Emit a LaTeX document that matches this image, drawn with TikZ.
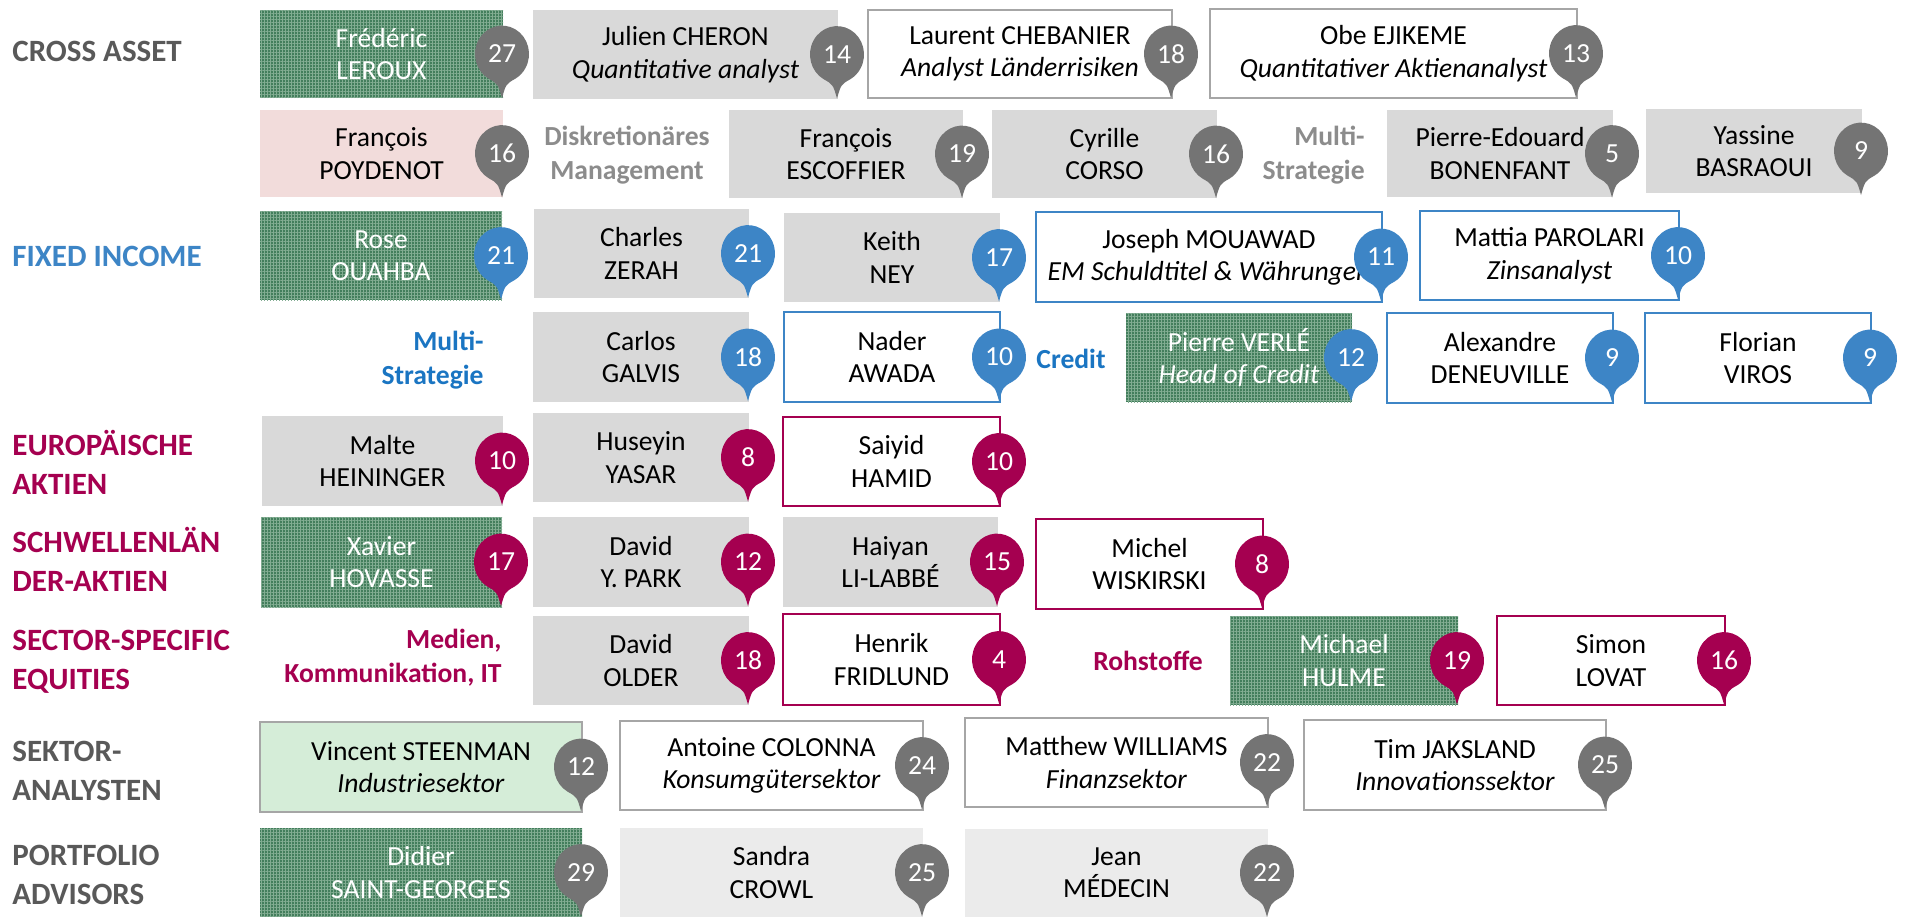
\documentclass[tikz,border=0pt]{standalone}
\usepackage{fontspec}
\setmainfont{Carlito}
\usetikzlibrary{patterns.meta}
\definecolor{boxgrey}{HTML}{D9D9D9}
\definecolor{lightgrey}{HTML}{EBEBEB}
\definecolor{pinkfill}{HTML}{F2DCDB}
\definecolor{mintfill}{HTML}{D5EDD8}
\definecolor{greenbase}{HTML}{437E5C}
\definecolor{greenline}{HTML}{82AD92}
\definecolor{bordergrey}{HTML}{A6A6A6}
\definecolor{fiblue}{HTML}{3D85C6}
\definecolor{creditblue}{HTML}{1A75C2}
\definecolor{crimson}{HTML}{A50050}
\definecolor{pingrey}{HTML}{747474}
\definecolor{labgrey}{HTML}{595959}
\definecolor{sublabgrey}{HTML}{8C8C8C}
\tikzset{
  namefont/.style={font=\fontsize{13.8}{16.2}\selectfont},
  person/.style={namefont, align=center, inner sep=0pt, outer sep=0pt},
  greybox/.style={person, fill=boxgrey},
  lgreybox/.style={person, fill=lightgrey},
  pinkbox/.style={person, fill=pinkfill},
  mintbox/.style={person, fill=mintfill, draw=bordergrey, line width=1pt},
  hatchbox/.style={person, fill=greenbase, text=white,
     postaction={pattern={Hatch[angle=0,distance=1.5pt,line width=0.45pt]}, pattern color=greenline}},
  greyline/.style={person, fill=white, draw=bordergrey, line width=1pt},
  blueline/.style={person, fill=white, draw=fiblue, line width=1pt},
  redline/.style={person, fill=white, draw=crimson, line width=1pt},
  pinnum/.style={namefont, text=white, inner sep=0pt},
  rowlab/.style={font=\fontsize{15.5}{19.5}\selectfont\bfseries, align=left, anchor=west, inner sep=0pt},
  sublab/.style={font=\fontsize{13.8}{17}\selectfont\bfseries, inner sep=0pt},
}
\newcommand\mkbox[7]{%
  \pgfmathsetmacro\bxw{(#4-#2)*0.5}%
  \pgfmathsetmacro\bxh{(#5-#3)*0.5}%
  \node[#6, minimum width=\bxw pt, minimum height=\bxh pt] (#1) at ({(#2+#4)/2},{(#3+#5)/2}) {#7};%
}
\newcommand\mkpin[4]{%
  \path (#1.east) ++(-1,0) coordinate (#4c);
  \fill[#3, shift={(#4c)}] (-13.5,24.6) arc[start angle=120, end angle=420, x radius=27, y radius=28.4]
     .. controls (4,30) .. (0,44) .. controls (-4,30) .. cycle;
  \node[pinnum] (#4) at (#4c) {#2};
}
\begin{document}
\begin{tikzpicture}[x=0.5pt,y=-0.5pt]
\useasboundingbox[fill=white] (0,0) rectangle (1910,916);

% row labels
\node[rowlab, text=labgrey] (lcross) at (12,51) {CROSS ASSET};
\node[rowlab, text=fiblue] (lfixed) at (12,256) {FIXED INCOME};
\node[rowlab, text=crimson] (leuro) at (12,462) {EUROPÄISCHE\\AKTIEN};
\node[rowlab, text=crimson] (lem) at (12,559) {SCHWELLENLÄN\\DER-AKTIEN};
\node[rowlab, text=crimson] (lsector) at (12,662) {SECTOR-SPECIFIC\\EQUITIES};
\node[rowlab, text=labgrey] (lsektor) at (12,771) {SEKTOR-\\ANALYSTEN};
\node[rowlab, text=labgrey] (lport) at (12,875) {PORTFOLIO\\ADVISORS};

% sub labels
\node[sublab, text=sublabgrey, align=center] (sdisk) at (627,155) {Diskretionäres\\Management};
\node[sublab, text=sublabgrey, align=right, anchor=east] (smulti1) at (1365,155) {Multi-\\Strategie};
\node[sublab, text=creditblue, align=right, anchor=east] (smulti2) at (484,360) {Multi-\\Strategie};
\node[sublab, text=creditblue] (scredit) at (1071,359) {Credit};
\node[sublab, text=crimson, align=right, anchor=east] (smedien) at (502,658) {Medien,\\Kommunikation, IT};
\node[sublab, text=crimson] (sroh) at (1148,661) {Rohstoffe};

% Row A
\mkbox{a1}{260}{10}{503}{98}{hatchbox}{Frédéric\\LEROUX}
\mkbox{a2}{533}{10}{838}{99}{greybox}{Julien CHERON\\\textit{Quantitative analyst}}
\mkbox{a3}{868}{10}{1172}{98}{greyline}{Laurent CHEBANIER\\\textit{Analyst Länderrisiken}}
\mkbox{a4}{1210}{9}{1577}{98}{greyline}{Obe EJIKEME\\\textit{Quantitativer Aktienanalyst}}
\mkpin{a1}{27}{pingrey}{pa1}
\mkpin{a2}{14}{pingrey}{pa2}
\mkpin{a3}{18}{pingrey}{pa3}
\mkpin{a4}{13}{pingrey}{pa4}

% Row B
\mkbox{b1}{260}{110}{503}{197}{pinkbox}{François\\POYDENOT}
\mkbox{b2}{729}{110}{963}{198}{greybox}{François\\ESCOFFIER}
\mkbox{b3}{992}{110}{1217}{198}{greybox}{Cyrille\\CORSO}
\mkbox{b4}{1387}{110}{1613}{197}{greybox}{Pierre-Edouard\\BONENFANT}
\mkbox{b5}{1646}{109}{1862}{193}{greybox}{Yassine\\BASRAOUI}
\mkpin{b1}{16}{pingrey}{pb1}
\mkpin{b2}{19}{pingrey}{pb2}
\mkpin{b3}{16}{pingrey}{pb3}
\mkpin{b4}{5}{pingrey}{pb4}
\mkpin{b5}{9}{pingrey}{pb5}

% Row C
\mkbox{c1}{260}{211}{502}{300}{hatchbox}{Rose\\OUAHBA}
\mkbox{c2}{534}{209}{749}{298}{greybox}{Charles\\ZERAH}
\mkbox{c3}{784}{213}{1000}{302}{greybox}{Keith\\NEY}
\mkbox{c4}{1036}{212}{1382}{302}{blueline}{Joseph MOUAWAD\\\textit{EM Schuldtitel \& Währungen}}
\mkbox{c5}{1420}{211}{1679}{300}{blueline}{Mattia PAROLARI\\\textit{Zinsanalyst}}
\mkpin{c1}{21}{fiblue}{pc1}
\mkpin{c2}{21}{fiblue}{pc2}
\mkpin{c3}{17}{fiblue}{pc3}
\mkpin{c4}{11}{fiblue}{pc4}
\mkpin{c5}{10}{fiblue}{pc5}

% Row D
\mkbox{d1}{533}{312}{749}{402}{greybox}{Carlos\\GALVIS}
\mkbox{d2}{784}{312}{1000}{402}{blueline}{Nader\\AWADA}
\mkbox{d3}{1126}{313}{1352}{402}{hatchbox}{Pierre VERLÉ\\\textit{Head of Credit}}
\mkbox{d4}{1387}{313}{1613}{403}{blueline}{Alexandre\\DENEUVILLE}
\mkbox{d5}{1645}{313}{1871}{403}{blueline}{Florian\\VIROS}
\mkpin{d1}{18}{fiblue}{pd1}
\mkpin{d2}{10}{fiblue}{pd2}
\mkpin{d3}{12}{fiblue}{pd3}
\mkpin{d4}{9}{fiblue}{pd4}
\mkpin{d5}{9}{fiblue}{pd5}

% Row E
\mkbox{e1}{262}{416}{503}{506}{greybox}{Malte\\HEININGER}
\mkbox{e2}{533}{413}{749}{502}{greybox}{Huseyin\\YASAR}
\mkbox{e3}{783}{417}{1000}{506}{redline}{Saiyid\\HAMID}
\mkpin{e1}{10}{crimson}{pe1}
\mkpin{e2}{8}{crimson}{pe2}
\mkpin{e3}{10}{crimson}{pe3}

% Row F
\mkbox{f1}{261}{517}{502}{607}{hatchbox}{Xavier\\HOVASSE}
\mkbox{f2}{533}{517}{749}{607}{greybox}{David\\Y. PARK}
\mkbox{f3}{783}{517}{998}{607}{greybox}{Haiyan\\LI-LABBÉ}
\mkbox{f4}{1036}{519}{1263}{609}{redline}{Michel\\WISKIRSKI}
\mkpin{f1}{17}{crimson}{pf1}
\mkpin{f2}{12}{crimson}{pf2}
\mkpin{f3}{15}{crimson}{pf3}
\mkpin{f4}{8}{crimson}{pf4}

% Row G
\mkbox{g1}{533}{616}{749}{705}{greybox}{David\\OLDER}
\mkbox{g2}{783}{614}{1000}{705}{redline}{Henrik\\FRIDLUND}
\mkbox{g3}{1230}{616}{1458}{705}{hatchbox}{Michael\\HULME}
\mkbox{g4}{1497}{616}{1725}{705}{redline}{Simon\\LOVAT}
\mkpin{g1}{18}{crimson}{pg1}
\mkpin{g2}{4}{crimson}{pg2}
\mkpin{g3}{19}{crimson}{pg3}
\mkpin{g4}{16}{crimson}{pg4}

% Row H
\mkbox{h1}{260}{722}{582}{812}{mintbox}{Vincent STEENMAN\\\textit{Industriesektor}}
\mkbox{h2}{620}{721}{923}{810}{greyline}{Antoine COLONNA\\\textit{Konsumgütersektor}}
\mkbox{h3}{965}{718}{1268}{807}{greyline}{Matthew WILLIAMS\\\textit{Finanzsektor}}
\mkbox{h4}{1304}{720}{1606}{810}{greyline}{Tim JAKSLAND\\\textit{Innovationssektor}}
\mkpin{h1}{12}{pingrey}{ph1}
\mkpin{h2}{24}{pingrey}{ph2}
\mkpin{h3}{22}{pingrey}{ph3}
\mkpin{h4}{25}{pingrey}{ph4}

% Row I
\mkbox{i1}{260}{828}{582}{917}{hatchbox}{Didier\\SAINT-GEORGES}
\mkbox{i2}{620}{828}{923}{917}{lgreybox}{Sandra\\CROWL}
\mkbox{i3}{965}{829}{1268}{917}{lgreybox}{Jean\\MÉDECIN}
\mkpin{i1}{29}{pingrey}{pi1}
\mkpin{i2}{25}{pingrey}{pi2}
\mkpin{i3}{22}{pingrey}{pi3}
\end{tikzpicture}
\end{document}
